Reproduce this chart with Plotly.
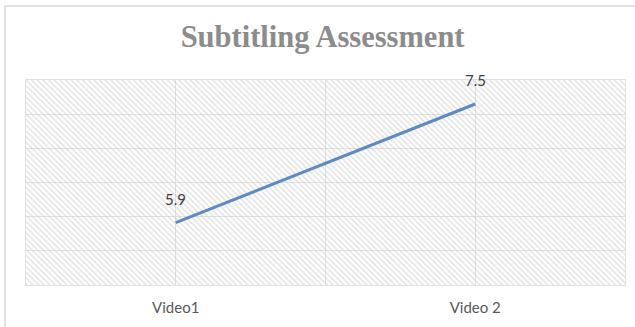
import plotly.graph_objects as go

categories = ["Video1", "Video 2"]
scores = [5.9, 7.5]
label_texts = ["5.9", "7.5"]

W, H = 635, 327
ML, MR, MT, MB = 26, 10, 80, 42
Y_MIN, Y_MAX = 5.06, 7.8235
N_GRID = 6

xs = list(range(len(categories)))
x_lo, x_hi = -0.5, len(categories) - 0.5

fig = go.Figure()

# hatched plot-area background
fig.add_trace(go.Scatter(
    x=[x_lo, x_hi, x_hi, x_lo, x_lo],
    y=[Y_MIN, Y_MIN, Y_MAX, Y_MAX, Y_MIN],
    mode="lines", line=dict(width=0), fill="toself",
    fillcolor="rgba(0,0,0,0)",
    fillpattern=dict(shape="\\", fgcolor="#c9c9c9", bgcolor="rgba(0,0,0,0)",
                     size=4, solidity=0.4),
    hoverinfo="skip", showlegend=False,
))

fig.add_trace(go.Scatter(
    x=xs, y=scores, mode="lines",
    line=dict(color="#5e8bc1", width=3),
    showlegend=False,
))

for x, y, t in zip(xs, scores, label_texts):
    fig.add_annotation(x=x, y=y, text=t, showarrow=False, yshift=24,
                       font=dict(family="Lato", size=15, color="#404040"))

pw = W - ML - MR
ph = H - MT - MB
bx = (5 - ML) / pw
by = (H - MB - 6) / ph
fig.add_shape(type="path", xref="paper", yref="paper",
              path=f"M {bx} -0.5 L {bx} {by} L 1.2 {by}",
              line=dict(color="#d9d9d9", width=1.5))

fig.update_layout(
    width=W, height=H,
    margin=dict(l=ML, r=MR, t=MT, b=MB),
    paper_bgcolor="white", plot_bgcolor="white",
    title=dict(text="<b>Subtitling Assessment</b>", x=0.508, xanchor="center",
               y=0.89, yanchor="middle", yref="container",
               font=dict(family="Liberation Serif", size=30.5, color="#8c8c8c")),
    xaxis=dict(range=[x_lo, x_hi], tickmode="array", tickvals=xs, ticktext=categories,
               showgrid=True, gridcolor="#e2e2e2", gridwidth=1,
               minor=dict(showgrid=True, tick0=-0.5, dtick=1, gridcolor="#e2e2e2", gridwidth=1),
               zeroline=False, ticks="", ticklabelstandoff=9,
               showline=True, mirror=True, linecolor="#e2e2e2", linewidth=1,
               tickfont=dict(family="Lato", size=15, color="#595959")),
    yaxis=dict(range=[Y_MIN, Y_MAX], tick0=Y_MIN, dtick=(Y_MAX - Y_MIN) / N_GRID,
               showgrid=True, gridcolor="#e2e2e2", gridwidth=1,
               showticklabels=False, zeroline=False, ticks="",
               showline=True, mirror=True, linecolor="#e2e2e2", linewidth=1),
)

fig.write_html("out.html")
